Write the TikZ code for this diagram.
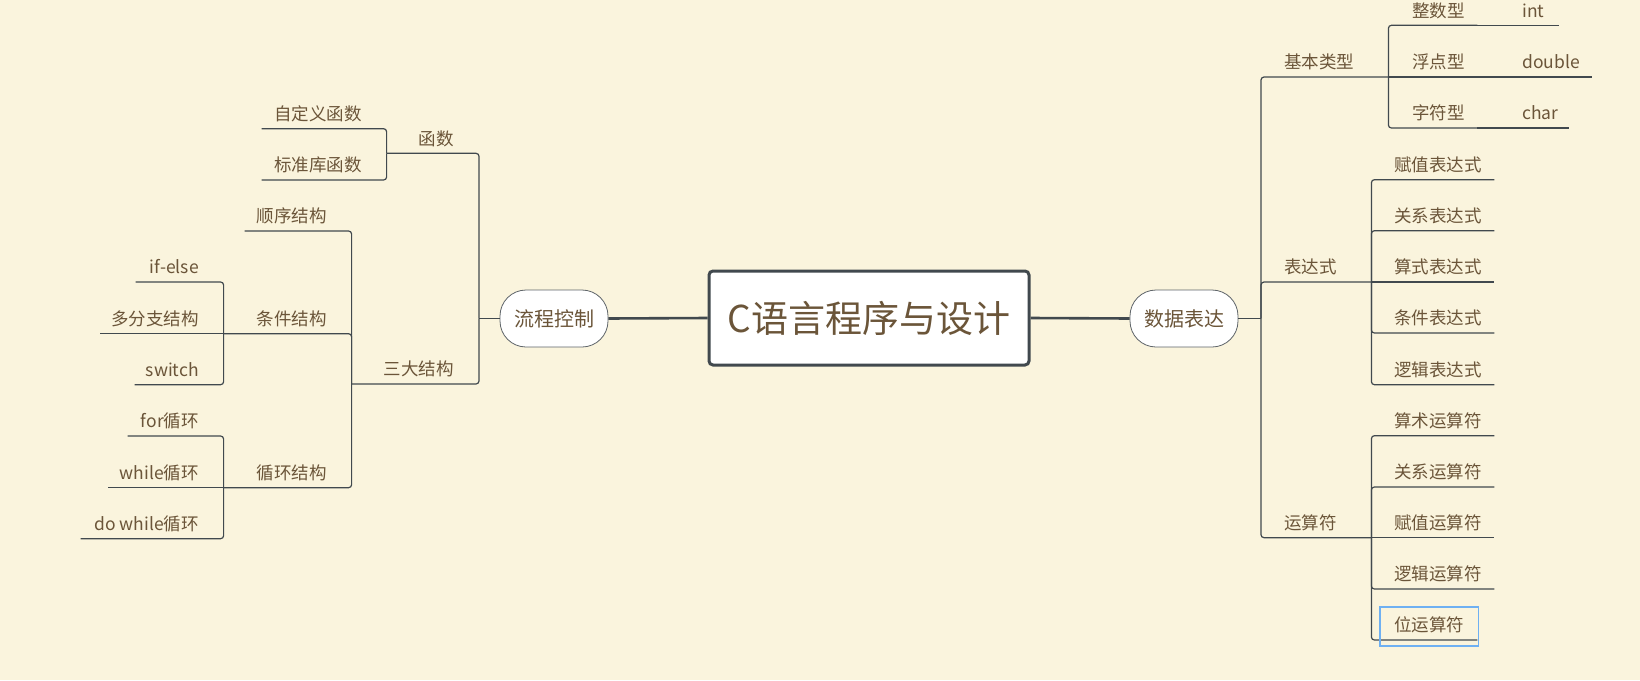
\documentclass[tikz,border=0pt]{standalone}
\usepackage{fontspec}
\setmainfont{Noto Sans CJK SC}
\usetikzlibrary{calc}
\definecolor{bg}{HTML}{FAF4DD}
\definecolor{txt}{HTML}{6B5539}
\definecolor{ln}{HTML}{41494E}
\definecolor{sel}{HTML}{6EB0F2}
\newcommand\Lb[2]{\makebox[#1pt][r]{#2\kern25pt}}
\newcommand\Rb[3]{\makebox[#1pt][l]{\kern#2pt #3}}
\tikzset{
  tp/.style={inner sep=0pt, text height=13pt, text depth=8pt, font=\fontsize{17.5}{20}\selectfont, text=txt},
  lt/.style={tp, anchor=south east},
  rt/.style={tp, anchor=south west},
  br/.style={line width=1.2pt, draw=ln, rounded corners=3pt},
  trunk/.style={line width=1.8pt, draw=ln},
  hub/.style={line width=2.6pt, draw=ln},
  pill/.style={draw=ln!85, fill=white, line width=0.8pt, rounded corners=26pt, minimum width=108pt, minimum height=57pt, inner sep=0pt, font=\fontsize{20}{24}\selectfont, text=txt},
  rootbox/.style={draw=ln, fill=white, line width=3pt, rounded corners=4pt, minimum width=320pt, minimum height=94pt, inner sep=0pt, font=\fontsize{37}{44}\selectfont, text=txt},
  selbox/.style={draw=sel, line width=1.8pt}
}
\begin{document}
\begin{tikzpicture}[x=1pt,y=-1pt]
\fill[bg] (0,0) rectangle (1640,680);
\useasboundingbox (0,0) rectangle (1640,680);

% root and main topics
\node[rootbox] (root) at (869,318) {C语言程序与设计};
\node[pill] (lc) at (554,318.5) {流程控制};
\node[pill] (sj) at (1184,318.5) {数据表达};
\draw[hub] (lc.east) -- (root.west);
\draw[hub] (root.east) -- (sj.west);
\coordinate (lj) at (479,318.5);
\coordinate (rj) at (1261,318.5);
\draw[trunk] (lc.west) -- (lj);
\draw[trunk] (sj.east) -- (rj);

% left side
\node[lt] (hs) at (479,153.3) {\Lb{92}{函数}};
\node[lt] (sd) at (479,384) {\Lb{127}{三大结构}};
\node[lt] (zdy) at (387,128.7) {\Lb{125}{自定义函数}};
\node[lt] (bzk) at (387,180) {\Lb{125}{标准库函数}};
\node[lt] (sx) at (352,231) {\Lb{107}{顺序结构}};
\node[lt] (tj) at (352,333.7) {\Lb{128}{条件结构}};
\node[lt] (xh) at (352,487.7) {\Lb{128}{循环结构}};
\node[lt] (ife) at (224,282) {\Lb{88}{if-else}};
\node[lt] (dfz) at (224,333.7) {\Lb{124}{多分支结构}};
\node[lt] (sw) at (224,384.7) {\Lb{89}{switch}};
\node[lt] (for) at (224,436) {\Lb{96}{for循环}};
\node[lt] (wh) at (224,487.7) {\Lb{116}{while循环}};
\node[lt] (dw) at (224,538.7) {\Lb{143}{do while循环}};

\draw[br] (lj) |- (hs.south west);
\draw[br] (lj) |- (sd.south west);
\draw[br] (hs.south west) |- (zdy.south west);
\draw[br] (hs.south west) |- (bzk.south west);
\draw[br] (sd.south west) |- (sx.south west);
\draw[br] (sd.south west) |- (tj.south west);
\draw[br] (sd.south west) |- (xh.south west);
\draw[br] (tj.south west) |- (ife.south west);
\draw[br] (tj.south west) -- (dfz.south west);
\draw[br] (tj.south west) |- (sw.south west);
\draw[br] (xh.south west) |- (for.south west);
\draw[br] (xh.south west) -- (wh.south west);
\draw[br] (xh.south west) |- (dw.south west);

% right side
\node[rt] (jb) at (1261,77) {\Rb{127}{23}{基本类型}};
\node[rt] (bd) at (1261,282) {\Rb{110}{23}{表达式}};
\node[rt] (ys) at (1261,537.7) {\Rb{110}{23}{运算符}};
\node[rt] (zs) at (1388,25.3) {\Rb{89}{24}{整数型}};
\node[rt] (fd) at (1388,77) {\Rb{89}{24}{浮点型}};
\node[rt] (zf) at (1388,128) {\Rb{89}{24}{字符型}};
\node[rt] (int) at (1477,25.3) {\Rb{82}{45}{int}};
\node[rt] (dbl) at (1477,77) {\Rb{115}{45}{double}};
\node[rt] (chr) at (1477,128) {\Rb{92}{45}{char}};
\node[rt] (e1) at (1371,179.7) {\Rb{123}{23}{赋值表达式}};
\node[rt] (e2) at (1371,230.7) {\Rb{123}{23}{关系表达式}};
\node[rt] (e3) at (1371,282) {\Rb{123}{23}{算式表达式}};
\node[rt] (e4) at (1371,333) {\Rb{123}{23}{条件表达式}};
\node[rt] (e5) at (1371,384.7) {\Rb{123}{23}{逻辑表达式}};
\node[rt] (o1) at (1371,435.7) {\Rb{123}{23}{算术运算符}};
\node[rt] (o2) at (1371,487) {\Rb{123}{23}{关系运算符}};
\node[rt] (o3) at (1371,537.7) {\Rb{123}{23}{赋值运算符}};
\node[rt] (o4) at (1371,589) {\Rb{123}{23}{逻辑运算符}};
\node[rt] (o5) at (1371,640) {\Rb{106}{23}{位运算符}};

\draw[br] (rj) |- (jb.south east);
\draw[br] (rj) |- (bd.south east);
\draw[br] (rj) |- (ys.south east);
\draw[br] (jb.south east) |- (zs.south east);
\draw[br] (jb.south east) -- (fd.south east);
\draw[br] (jb.south east) |- (zf.south east);
\draw[br] (zs.south east) -- (int.south east);
\draw[br] (fd.south east) -- (dbl.south east);
\draw[br] (zf.south east) -- (chr.south east);
\draw[br] (bd.south east) |- (e1.south east);
\draw[br] (bd.south east) |- (e2.south east);
\draw[br] (bd.south east) -- (e3.south east);
\draw[br] (bd.south east) |- (e4.south east);
\draw[br] (bd.south east) |- (e5.south east);
\draw[br] (ys.south east) |- (o1.south east);
\draw[br] (ys.south east) |- (o2.south east);
\draw[br] (ys.south east) -- (o3.south east);
\draw[br] (ys.south east) |- (o4.south east);
\draw[br] (ys.south east) |- (o5.south east);

\draw[selbox] ($(o5.south west)+(9,-33)$) rectangle ($(o5.south east)+(1,6)$);
\end{tikzpicture}
\end{document}
